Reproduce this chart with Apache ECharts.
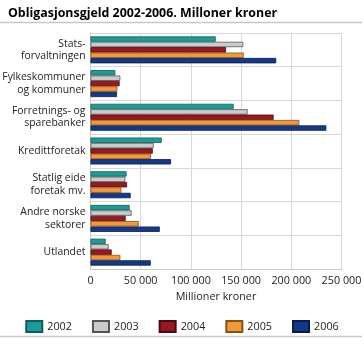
<!DOCTYPE html>
<html><head><meta charset="utf-8">
<script src="https://cdn.jsdelivr.net/npm/echarts@6/dist/echarts.min.js"></script>
<style>html,body{margin:0;padding:0;background:#fff}#c{width:364px;height:346px}</style>
</head><body><div id="c"></div>
<script>
const categories = ["Stats-\nforvaltningen","Fylkeskommuner\nog kommuner","Forretnings- og\nsparebanker","Kredittforetak","Statlig eide\nforetak mv.","Andre norske\nsektorer","Utlandet"];
const years = ["2002","2003","2004","2005","2006"];
const v2002 = [124700, 24700, 142600, 70900, 36000, 39000, 15100];
const v2003 = [152200, 29700, 156500, 62900, 34700, 41000, 18100];
const v2004 = [135000, 29000, 182400, 62000, 36400, 35000, 21100];
const v2005 = [152600, 26700, 208000, 60300, 30700, 48000, 29700];
const v2006 = [185000, 26400, 234900, 80200, 40000, 69000, 60000];
const xTicks = [0, 50000, 100000, 150000, 200000, 250000];
const colors = ["#1c9c97","#cbcbcb","#9a1822","#f3993a","#15398a"];
const borders = ["#0f5f5c","#555555","#4a0a10","#8a5010","#0a1d48"];
const seriesVals = [v2002, v2003, v2004, v2005, v2006];
const font = "'Open Sans', 'DejaVu Sans', sans-serif";
const chart = echarts.init(document.getElementById('c'), null, {renderer:'canvas'});
chart.setOption({
  animation:false,
  textStyle:{fontFamily:font},
  title:{text:"Obligasjonsgjeld 2002-2006. Milloner kroner", left:3, top:2,
    textStyle:{fontFamily:font, fontSize:12.4, fontWeight:'bold', color:'#000'}},
  graphic:[
    {type:'line', shape:{x1:0,y1:22.5,x2:362,y2:22.5}, style:{stroke:'#c8c8c8', lineWidth:1.5}},
    {type:'line', shape:{x1:0,y1:336.5,x2:362,y2:336.5}, style:{stroke:'#c8c8c8', lineWidth:1.5}}
  ],
  legend:{bottom:8, left:'center', itemWidth:16, itemHeight:11, itemGap:20,
    textStyle:{fontFamily:font, fontSize:10.8, color:'#222'}, data:years,
    icon:'rect'},
  grid:{left:90.5, right:22.5, top:33, bottom:77, containLabel:false, outerBoundsMode:'none'},
  xAxis:{type:'value', min:0, max:250000, interval:50000,
    name:'Millioner kroner', nameLocation:'middle', nameGap:22,
    nameTextStyle:{fontFamily:font, fontSize:10.8, color:'#222'},
    axisLabel:{fontFamily:font, fontSize:10.8, color:'#222', margin:6,
      formatter: v => v===0 ? '0' : String(v).replace(/\B(?=(\d{3})+(?!\d))/g,' ')},
    axisLine:{show:true, lineStyle:{color:'#c8c8c8'}}, axisTick:{show:false},
    splitLine:{show:true, lineStyle:{color:'#d8d8d8', width:1}}},
  yAxis:{type:'category', data:categories, inverse:true,
    axisLabel:{fontFamily:font, fontSize:10.4, color:'#222', margin:5, lineHeight:12.5, align:'right'},
    axisLine:{show:true, lineStyle:{color:'#c8c8c8'}}, axisTick:{show:false},
    splitLine:{show:true, lineStyle:{color:'#d8d8d8', width:1}}},
  series: years.map((y,i)=>({name:y, type:'bar', data:seriesVals[i],
    barGap:'0%', barCategoryGap:'20%',
    itemStyle:{color:colors[i], borderColor:borders[i], borderWidth:0.8}}))
});
</script></body></html>
